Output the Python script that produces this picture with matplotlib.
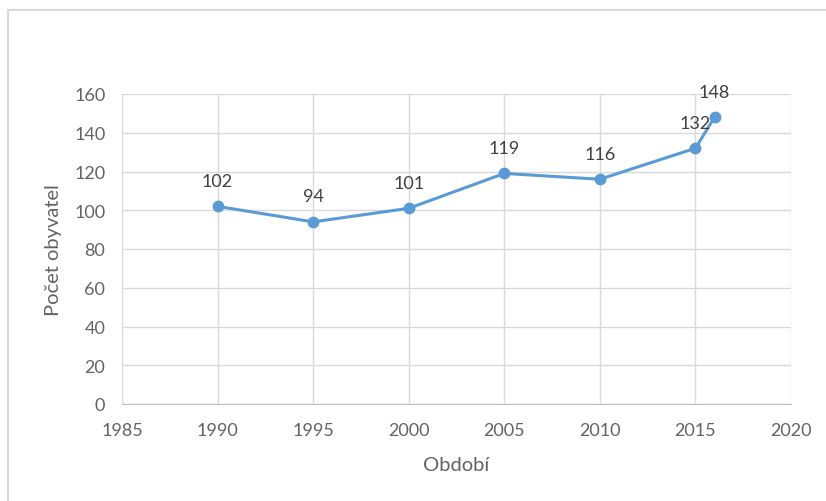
import matplotlib
matplotlib.use("Agg")
import matplotlib.pyplot as plt
from matplotlib.lines import Line2D

years = [1990, 1995, 2000, 2005, 2010, 2015, 2016]
population = [102, 94, 101, 119, 116, 132, 148]
x_ticks = [1985, 1990, 1995, 2000, 2005, 2010, 2015, 2020]
y_ticks = [0, 20, 40, 60, 80, 100, 120, 140, 160]

plt.rcParams['font.family'] = ['Lato', 'DejaVu Sans']
W, H = 826, 502
fig = plt.figure(figsize=(W / 100, H / 100), dpi=100)
ax = fig.add_axes([122 / W, 1 - 405 / H, (791 - 122) / W, (405 - 95) / H])

line_color = '#5b9bd5'
text_color = '#636363'
grid_color = '#d9d9d9'

ax.plot(years, population, color=line_color, linewidth=2.2, marker='o',
        markersize=7.5, zorder=3)
for x, y in zip(years, population):
    ax.annotate(str(y), (x, y), xytext=(0, 18.5), textcoords='offset points',
                ha='center', va='center', fontsize=13, color='#404040', zorder=4)

ax.set_xlim(1985, 2020)
ax.set_ylim(0, 160)
ax.set_xticks(x_ticks)
ax.set_yticks(y_ticks)
ax.grid(True, color=grid_color, linewidth=1)
ax.set_axisbelow(True)
for s in ['top', 'right', 'left']:
    ax.spines[s].set_visible(False)
ax.spines['bottom'].set_color('#bfbfbf')
ax.tick_params(axis='both', length=0, labelsize=13, colors=text_color)
ax.tick_params(axis='x', pad=13)
ax.tick_params(axis='y', pad=12)

fig.text(456.5 / W, 1 - 466 / H, 'Období', ha='center', va='center',
         fontsize=14.5, color=text_color)
fig.text(53 / W, 1 - 250 / H, 'Počet obyvatel', ha='center', va='center',
         rotation=90, fontsize=14.5, color=text_color)

# outer chart border (top and left visible)
fig.add_artist(Line2D([8 / W, 8 / W], [0, 1 - 11 / H], transform=fig.transFigure,
                      color='#d9d9d9', linewidth=1.5))
fig.add_artist(Line2D([8 / W, 1], [1 - 11 / H, 1 - 11 / H], transform=fig.transFigure,
                      color='#d9d9d9', linewidth=1.5))

fig.savefig('out.png', dpi=100, facecolor='white')
